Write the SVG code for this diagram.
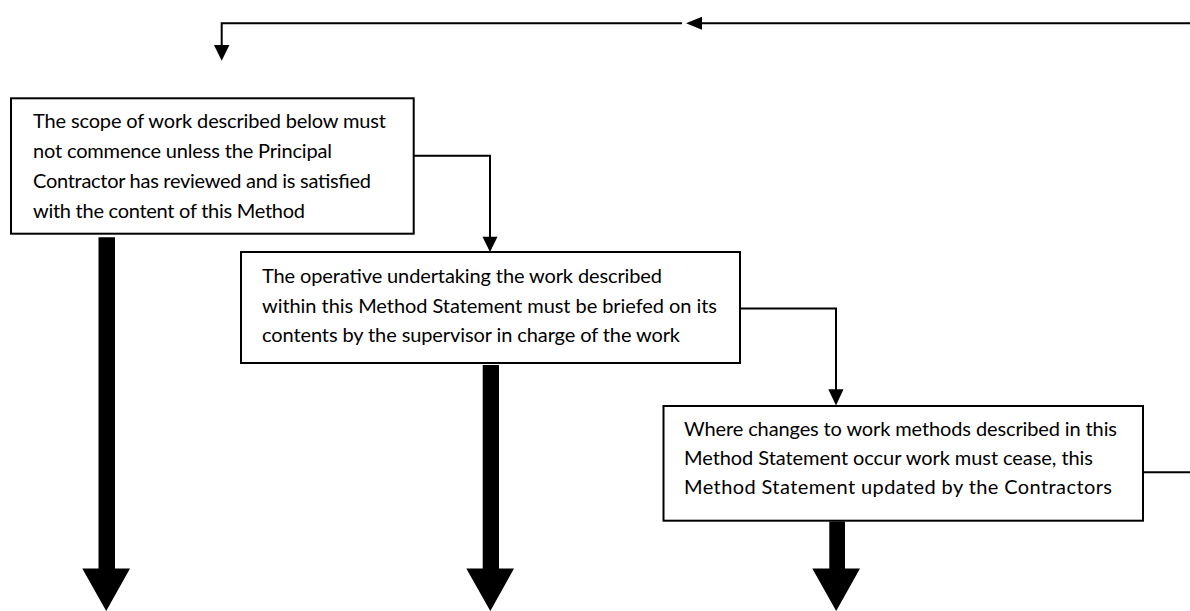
<svg xmlns="http://www.w3.org/2000/svg" width="1190" height="611" viewBox="0 0 1190 611">
<style>
.box{fill:#fff;stroke:#000;stroke-width:2}
.t{font-family:Lato,"Open Sans","Liberation Sans",sans-serif;font-size:20px;fill:#000}
.ln{fill:none;stroke:#000;stroke-width:2}
.hd{fill:#000}
</style>
<rect width="1190" height="611" fill="#fff"/>
<g id="connectors">
  <path class="ln" d="M1190 23.3 H700"/>
  <path class="ln" d="M682 23.3 H221.7 V46"/>
  <polygon class="hd" points="686,23.3 702,16.8 702,29.8"/>
  <polygon class="hd" points="214,45 229.4,45 221.7,60.7"/>
  <path class="ln" d="M414 155.7 H490 V238"/>
  <polygon class="hd" points="482.5,236.7 497.5,236.7 490,252"/>
  <path class="ln" d="M740 308.5 H836 V390"/>
  <polygon class="hd" points="828.3,389.3 843.5,389.3 836,405.5"/>
  <path class="ln" d="M1143 472.3 H1190"/>
  <polygon class="hd" points="98.5,237.3 115,237.3 115,568.5 130,568.5 106.2,611 82.3,568.5 98.5,568.5"/>
  <polygon class="hd" points="482.7,365 499,365 499,568.5 514,568.5 490.3,611 466.3,568.5 482.7,568.5"/>
  <polygon class="hd" points="829.3,521.5 845,521.5 845,568.5 860,568.5 836.2,611 812.3,568.5 829.3,568.5"/>
</g>
<g id="node1">
  <rect class="box" x="11" y="98.3" width="402.7" height="135.4"/>
  <text class="t" x="33" y="128" textLength="353">The scope of work described below must</text>
  <text class="t" x="33" y="158" textLength="299">not commence unless the Principal</text>
  <text class="t" x="33" y="188" textLength="338">Contractor has reviewed and is satisfied</text>
  <text class="t" x="33" y="217.5" textLength="272">with the content of this Method</text>
</g>
<g id="node2">
  <rect class="box" x="241" y="252" width="499" height="111"/>
  <text class="t" x="262" y="283.3" textLength="400">The operative undertaking the work described</text>
  <text class="t" x="262" y="312.5" textLength="455">within this Method Statement must be briefed on its</text>
  <text class="t" x="262" y="341.7" textLength="418">contents by the supervisor in charge of the work</text>
</g>
<g id="node3">
  <rect class="box" x="663.5" y="406" width="479.5" height="114.7"/>
  <text class="t" x="684" y="436" textLength="433">Where changes to work methods described in this</text>
  <text class="t" x="684" y="465" textLength="409">Method Statement occur work must cease, this</text>
  <text class="t" x="684" y="494" textLength="428">Method Statement updated by the Contractors</text>
</g>
</svg>
